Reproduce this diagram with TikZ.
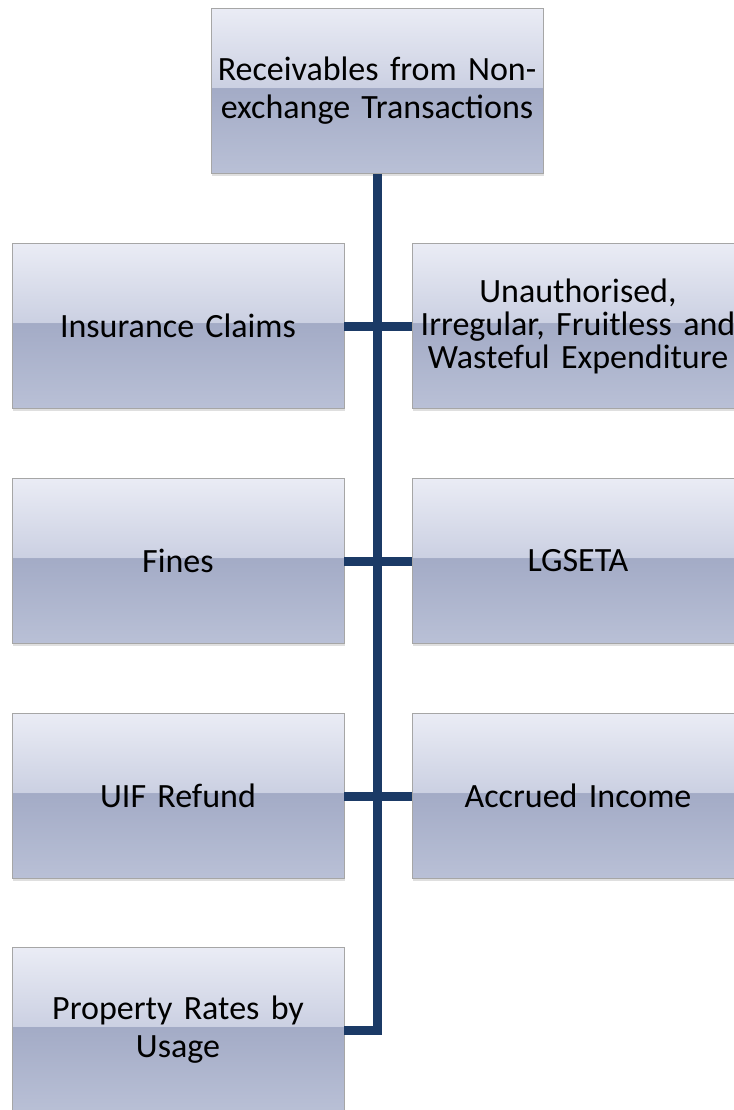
\documentclass[tikz,border=0pt]{standalone}
\usepackage{fontspec}
\setmainfont{Carlito}
\usetikzlibrary{shadows}

\definecolor{spine}{HTML}{1B3A66}
\definecolor{boxtop}{HTML}{EAECF5}
\definecolor{boxmidhi}{HTML}{CBD0E2}
\definecolor{boxmidlo}{HTML}{A3ABC6}
\definecolor{boxbot}{HTML}{B9C0D6}
\pgfdeclareverticalshading{boxshade}{100bp}{color(0bp)=(boxbot); color(25bp)=(boxbot); color(51bp)=(boxmidlo); color(51bp)=(boxmidhi); color(75bp)=(boxtop); color(100bp)=(boxtop)}

\begin{document}
\begin{tikzpicture}[x=1pt,y=-1pt,
  itembox/.style={draw=gray!70, line width=0.6pt, shading=boxshade,
    drop shadow={opacity=0.25, shadow xshift=1pt, shadow yshift=-2.5pt},
    minimum width=332pt, minimum height=165pt, text width=322pt,
    align=center, inner sep=0pt, font=\fontsize{34}{38}\selectfont},
  bar/.style={draw=spine, line width=9pt}]
\useasboundingbox (0,0) rectangle (733,1110);

\node[itembox] (root) at (377,91) {Receivables from Non-\\exchange Transactions};

\node[itembox] (claims) at (178,326) {Insurance Claims};
\node[itembox, font=\fontsize{34}{33}\selectfont] (unauth) at (578,326)
  {Unauthorised,\\Irregular, Fruitless and\\Wasteful Expenditure};

\node[itembox] (fines) at (178,561) {Fines};
\node[itembox] (lgseta) at (578,561) {LGSETA};

\node[itembox] (uif) at (178,796) {UIF Refund};
\node[itembox] (accrued) at (578,796) {Accrued Income};

\node[itembox] (rates) at (178,1030) {Property Rates by\\Usage};

\draw[bar] (claims.east) -- (unauth.west);
\draw[bar] (fines.east) -- (lgseta.west);
\draw[bar] (uif.east) -- (accrued.west);
\draw[bar, line join=miter] (root.south) -- (root.south |- rates.east) -- (rates.east);
\end{tikzpicture}
\end{document}
